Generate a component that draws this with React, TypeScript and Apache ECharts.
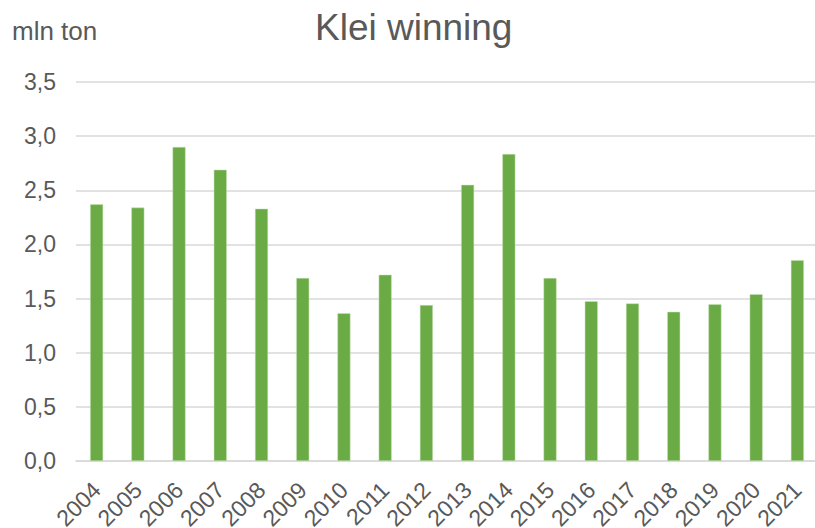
import React, { useEffect, useRef } from "react";
import * as echarts from "echarts";

const years = ["2004","2005","2006","2007","2008","2009","2010","2011","2012","2013","2014","2015","2016","2017","2018","2019","2020","2021"];
const values = [2.37, 2.34, 2.90, 2.69, 2.33, 1.69, 1.365, 1.72, 1.44, 2.55, 2.835, 1.69, 1.475, 1.455, 1.378, 1.448, 1.54, 1.855];
const chartTitle = "Klei winning";
const unitLabel = "mln ton";

export default function App() {
  const ref = useRef<HTMLDivElement>(null);
  useEffect(() => {
    if (!ref.current) return;
    const chart = echarts.init(ref.current, undefined, { renderer: "svg" });
    const font = "'Liberation Sans', Arial, sans-serif";
    chart.setOption({
      animation: false,
      backgroundColor: "#ffffff",
      title: {
        text: chartTitle,
        left: 310,
        top: 4,
        textStyle: { fontFamily: font, fontSize: 37, fontWeight: "normal", color: "#595959" },
      },
      graphic: [
        {
          type: "text",
          left: 12,
          top: 18,
          style: { text: unitLabel, fontFamily: font, fontSize: 26, fill: "#595959" },
        },
      ],
      grid: { left: 76, right: -3, top: 82, bottom: 67, containLabel: false, outerBoundsMode: "none" },
      xAxis: {
        type: "category",
        data: years,
        axisTick: { show: false },
        axisLine: { lineStyle: { color: "#D9D9D9", width: 1.5 } },
        axisLabel: {
          rotate: 45,
          margin: 25,
          interval: 0,
          fontFamily: font,
          fontSize: 23,
          color: "#595959",
        },
      },
      yAxis: {
        type: "value",
        min: 0,
        max: 3.5,
        interval: 0.5,
        axisLine: { show: false },
        axisTick: { show: false },
        splitLine: { lineStyle: { color: "#D9D9D9", width: 1.5 } },
        axisLabel: {
          margin: 20,
          fontFamily: font,
          fontSize: 23,
          color: "#595959",
          formatter: (v: number) => v.toFixed(1).replace(".", ","),
        },
      },
      series: [
        {
          type: "bar",
          data: values,
          barWidth: 13,
          itemStyle: { color: "#6AAB46", borderColor: "#C9E3B8", borderWidth: 0.5 },
        },
      ],
    });
    return () => chart.dispose();
  }, []);
  return (
    <div
      ref={ref}
      style={{ position: "absolute", left: 0, top: 0, width: 815, height: 528 }}
    />
  );
}
